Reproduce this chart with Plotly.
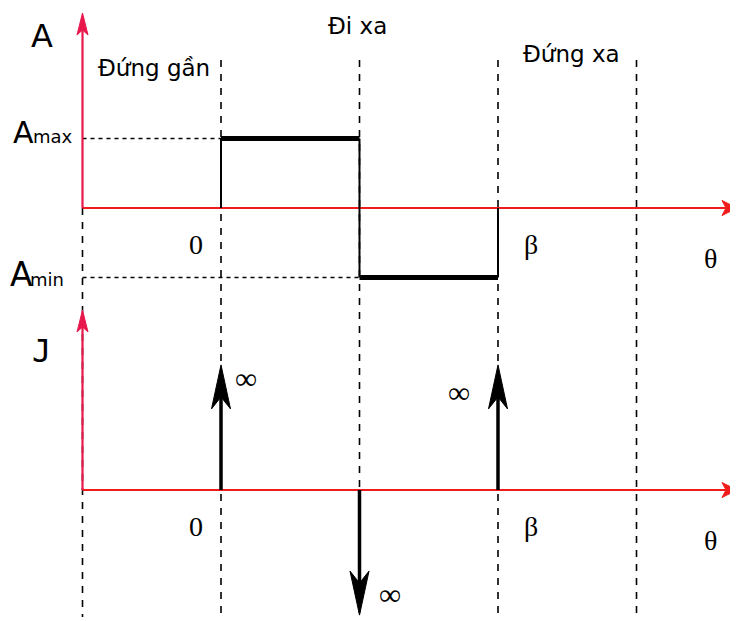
import plotly.graph_objects as go

# ---------------- data ----------------
theta_marks = [-1, 0, 1, 2, 3]          # dashed vertical boundaries (theta units)
theta_labels = ["0", "β"]               # labels at theta = 0 and theta = 2
theta_label_pos = [0, 2]
A_max = 1.0
A_min = -1.0
A_theta = [0, 1, 2]                     # segment boundaries of A(theta)
A_values = [A_max, A_min]               # A on [0,1] and [1,2]
J_theta = [0, 1, 2]                     # impulse positions of J
J_sign = [1, -1, 1]                     # +inf, -inf, +inf
J_labels = ["∞", "∞", "∞"]
zone_labels = ["Đứng gần", "Đi xa", "Đứng xa"]

# ---------------- geometry / style ----------------
W, H = 738, 621
PAGE = 8        # default body margin of the html page
XS = 138.5      # px per theta unit
YS = 69.5       # px per A unit
X0PX = 221      # px of theta = 0
Y0PX = 208      # px of A = 0
J_OFF = -(490 - Y0PX) / YS   # baseline of J panel (in A units)

def px2x(px):
    return (px - X0PX) / XS

def px2y(py):
    return (Y0PX - py) / YS

RED_H = "#f01c1c"
RED_V = "#e8174c"
BLACK = "#000000"

fig = go.Figure()

def line(xs, ys, color=BLACK, width=2, dash="solid"):
    fig.add_trace(go.Scatter(x=xs, y=ys, mode="lines", hoverinfo="skip",
                             line=dict(color=color, width=width, dash=dash),
                             showlegend=False))

def head(xt, yt, direction, length_px, half_px, notch_px, color):
    # arrow head polygon with tip at (xt, yt); direction: 'up','down','right'
    if direction in ("up", "down"):
        s = 1 if direction == "up" else -1
        L = length_px / YS * s
        N = notch_px / YS * s
        hw = half_px / XS
        xs = [xt, xt - hw, xt, xt + hw, xt]
        ys = [yt, yt - L, yt - L + N, yt - L, yt]
    else:
        L = length_px / XS
        N = notch_px / XS
        hw = half_px / YS
        xs = [xt, xt - L, xt - L + N, xt - L, xt]
        ys = [yt, yt + hw, yt, yt - hw, yt]
    fig.add_trace(go.Scatter(x=xs, y=ys, mode="lines", fill="toself",
                             fillcolor=color, line=dict(color=color, width=1),
                             hoverinfo="skip", showlegend=False))

# dashed vertical boundaries
for t in theta_marks:
    top = 0 if t == theta_marks[0] else px2y(60)
    line([t, t], [top, px2y(617)], width=1.6, dash="7px,7px")

# dotted level lines
line([theta_marks[0], A_theta[0]], [A_max, A_max], width=1.6, dash="4px,4px")
line([theta_marks[0], A_theta[1]], [A_min, A_min], width=1.6, dash="4px,4px")

# red axes (A panel and J panel)
x_end = px2x(737)
for base, vtop in [(0, px2y(13)), (J_OFF, px2y(310))]:
    line([theta_marks[0], x_end - 10 / XS], [base, base], color=RED_H, width=2.2)
    head(x_end, base, "right", 15, 7.5, 4, RED_H)
    line([theta_marks[0], theta_marks[0]], [base, vtop - 15 / YS], color=RED_V, width=2.2)
    head(theta_marks[0], vtop, "up", 22, 5.5, 5, RED_V)

# A(theta): thin verticals, thick horizontals
prev = 0
for i, v in enumerate(A_values):
    line([A_theta[i], A_theta[i]], [prev, v], width=2)
    line([A_theta[i], A_theta[i + 1]], [v, v], width=5)
    prev = v
line([A_theta[-1], A_theta[-1]], [prev, 0], width=2)

# J(theta): impulses
IMP = 1.8
for t, s in zip(J_theta, J_sign):
    tip = J_OFF + s * IMP
    line([t, t], [J_OFF, tip - s * 30 / YS], width=3.5)
    head(t, tip, "up" if s > 0 else "down", 44, 9.5, 12, BLACK)

# ---------------- text ----------------
SANS = "DejaVu Sans"
SERIF = "Liberation Serif"

def text(x, y, s, size, family=SANS, xanchor="center", yanchor="middle"):
    fig.add_annotation(x=x, y=y, text=s, showarrow=False, xanchor=xanchor,
                       yanchor=yanchor, font=dict(family=family, size=size, color=BLACK))

text(px2x(42), px2y(36), "A", 32)
text(px2x(41), px2y(351), "J", 32, family="DejaVu Sans Mono")
zone_px = [(154, 68), (357, 26), (571, 54)]
for lab, (xp, yp) in zip(zone_labels, zone_px):
    text(px2x(xp), px2y(yp), lab, 23)

# Amax / Amin
text(px2x(11), A_max + 6 / YS, "A", 30, xanchor="left")
text(px2x(31), A_max + 2 / YS, "max", 18, xanchor="left")
text(px2x(8), A_min + 3 / YS, "A", 33, xanchor="left")
text(px2x(28), A_min - 2 / YS, "min", 18, xanchor="left")

# theta tick labels
for base, dy in [(0, 36), (J_OFF, 36)]:
    for lab, t in zip(theta_labels, theta_label_pos):
        off = -25 if t == 0 else 33
        text(t + off / XS, base - dy / YS, lab, 28, family=SERIF)
    text(px2x(710), base - 50 / YS, "θ", 28, family=SERIF)

# infinity labels next to impulses
inf_off = [(25, 112), (30, -104), (-39, 98)]
for t, lab, (dx, dy) in zip(J_theta, J_labels, inf_off):
    text(t + dx / XS, J_OFF + dy / YS, lab, 31, family=SERIF)

fig.update_layout(
    width=W - PAGE, height=H - PAGE, margin=dict(l=0, r=0, t=0, b=0),
    paper_bgcolor="white", plot_bgcolor="white", showlegend=False,
    xaxis=dict(range=[px2x(PAGE), px2x(W)], visible=False, fixedrange=True),
    yaxis=dict(range=[px2y(H), px2y(PAGE)], visible=False, fixedrange=True),
)

fig.write_html("out.html")
